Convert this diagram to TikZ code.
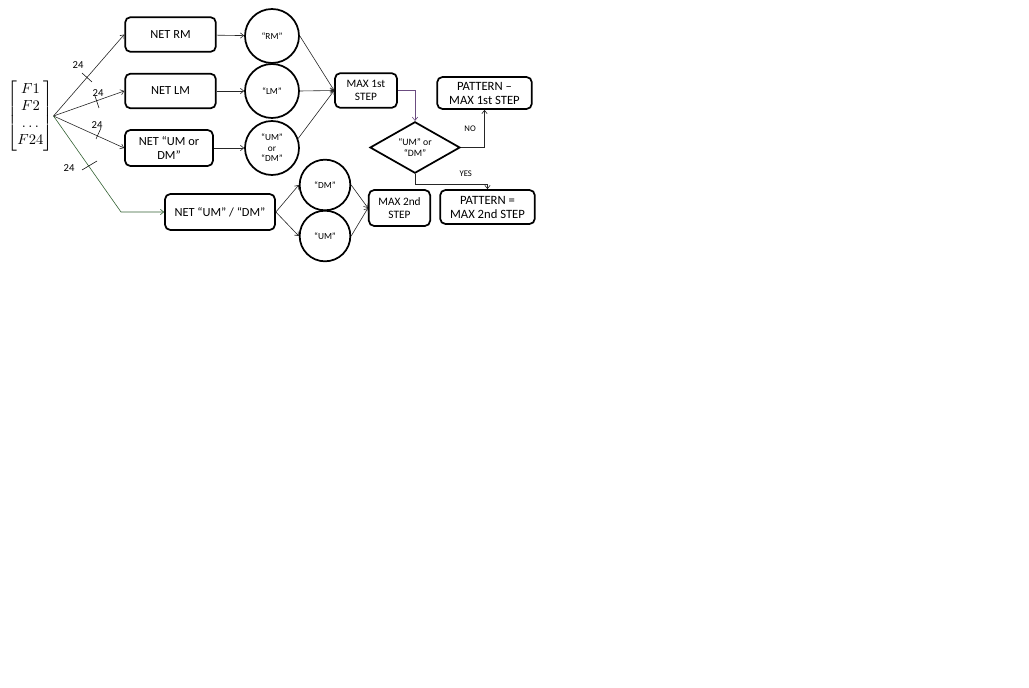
\documentclass[tikz,border=0pt]{standalone}
\usepackage{amsmath}
\usepackage{fontspec}
\setmainfont{Carlito}
\usetikzlibrary{shapes.geometric,arrows.meta}

\definecolor{stepline}{rgb}{0.42,0.30,0.50}
\definecolor{netline}{rgb}{0.20,0.38,0.20}

\tikzset{
  netbox/.style={draw, line width=1.3pt, rounded corners=4pt, align=center,
    inner sep=1pt, font=\fontsize{9.3}{10.5}\selectfont},
  classnode/.style={circle, draw, line width=1.3pt, minimum size=40.5pt,
    inner sep=0pt, align=center, font=\fontsize{7}{7.8}\selectfont},
  link/.style={draw=black!85, line width=0.45pt,
    -{Straight Barb[length=2.5pt,width=4pt]}},
  count/.style={font=\fontsize{8}{9}\selectfont, inner sep=0pt}
}

\begin{document}
\begin{tikzpicture}[x=0.75pt,y=-0.75pt]
\useasboundingbox (0,0) rectangle (1029,688);

% input vector
\node[inner sep=0pt, font=\fontsize{10.5}{12.75}\selectfont] (feat) at (30.5,116)
  {$\begin{bmatrix}F1\\F2\\\ldots\\F24\end{bmatrix}$};

% first step networks
\node[netbox, minimum width=68pt, minimum height=26pt] (netrm) at (170.5,34.5) {NET RM};
\node[netbox, minimum width=68pt, minimum height=26pt] (netlm) at (170.5,91) {NET LM};
\node[netbox, minimum width=66pt, minimum height=27pt] (netumdm) at (169,148) {NET “UM or\\DM”};
\node[classnode] (rm) at (272,36) {“RM”};
\node[classnode] (lm) at (272,91) {“LM”};
\node[classnode] (umdm) at (272,148) {“UM”\\or\\“DM”};
\node[netbox, minimum width=46.5pt, minimum height=26pt, font=\fontsize{8.5}{9.5}\selectfont] (max1) at (366,90.5) {MAX 1st\\STEP};

% decision
\node[diamond, draw, line width=1.3pt, minimum width=67.5pt, minimum height=34pt,
  inner sep=0pt, align=center, font=\fontsize{7.3}{8.2}\selectfont] (cond) at (415,147.5) {“UM” or\\“DM”};
\node[netbox, minimum width=71pt, minimum height=24pt, font=\fontsize{9.5}{10.5}\selectfont] (pat1) at (484.5,93) {PATTERN –\\MAX 1st STEP};

% second step networks
\node[netbox, minimum width=82.5pt, minimum height=27pt] (netud) at (220,212) {NET “UM” / “DM”};
\node[classnode, minimum size=38pt] (dm) at (325,185) {“DM”};
\node[classnode, minimum size=38pt] (um) at (325,236) {“UM”};
\node[netbox, minimum width=46pt, minimum height=27pt, font=\fontsize{8.5}{9.5}\selectfont] (max2) at (399.5,208) {MAX 2nd\\STEP};
\node[netbox, minimum width=71pt, minimum height=25.5pt, font=\fontsize{9.5}{10.5}\selectfont] (pat2) at (487.5,207) {PATTERN =\\MAX 2nd STEP};

\coordinate (elbow) at (121,212);

% inputs
\draw[link] (feat.east) -- (netrm.west);
\draw[link] (feat.east) -- (netlm.west);
\draw[link] (feat.east) -- (netumdm.west);
\draw[link, draw=netline] (feat.east) -- (elbow) -- (netud.west);

% bus width marks
\draw[line width=0.4pt] (82,73) -- (92,82);
\draw[line width=0.4pt] (95,96) -- (99,108);
\draw[line width=0.4pt] (96,139) -- (101,128);
\draw[line width=0.4pt] (82,170) -- (97,161);
\node[count] (n1) at (78,65) {24};
\node[count] (n2) at (98,93) {24};
\node[count] (n3) at (97,125) {24};
\node[count] (n4) at (69,168) {24};

% first step
\draw[link] (netrm) -- (rm);
\draw[link] (netlm) -- (lm);
\draw[link] (netumdm) -- (umdm);
\draw[link] (rm.east) -- (max1.west);
\draw[link] (lm.east) -- (max1.west);
\draw[link] (umdm.20) -- (max1.west);
\draw[link, draw=stepline] (max1.east) -| (cond.north);
\draw[link] (cond.east) -| (pat1.south) node[pos=0.75, left=3pt, font=\fontsize{6.5}{7.5}\selectfont] {NO};
\draw[link] (cond.south) -- ++(0,10) -| (pat2.north) node[pos=0.35, above=2pt, font=\fontsize{6.5}{7.5}\selectfont] {YES};

% second step
\draw[link] (netud.east) -- (dm.west);
\draw[link] (netud.east) -- (um.west);
\draw[link] (dm.east) -- (max2.west);
\draw[link] (um.east) -- (max2.west);
\end{tikzpicture}
\end{document}
